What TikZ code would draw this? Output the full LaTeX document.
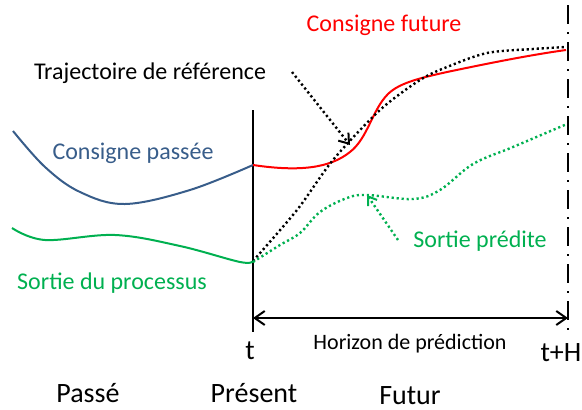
\documentclass[tikz,border=0pt]{standalone}
\usepackage{fontspec}
\setmainfont{Carlito}
\usetikzlibrary{arrows.meta}
\definecolor{cblue}{RGB}{56,93,138}
\definecolor{cgreen}{RGB}{0,176,80}
\definecolor{cred}{RGB}{255,0,0}
\tikzset{
  lbl/.style={font=\fontsize{24}{28}\selectfont, inner sep=0pt},
  biglbl/.style={font=\fontsize{28}{33}\selectfont, inner sep=0pt},
  smalllbl/.style={font=\fontsize{22}{26}\selectfont, inner sep=0pt},
  curve/.style={line width=2pt, smooth, tension=0.6},
  dotline/.style={line width=2.4pt, dash pattern=on 2.2pt off 2.8pt},
  barb/.style={-{Straight Barb[length=9pt,width=13pt,line width=2pt]}},
}
\begin{document}
\begin{tikzpicture}[x=1pt,y=-1pt]
\useasboundingbox (0,0) rectangle (582,410);
% axis lines
\coordinate (ttop) at (253,110);
\coordinate (tbot) at (253,332);
\coordinate (htop) at (568,5);
\coordinate (hbot) at (568,332);
\draw[line width=2.5pt] (ttop) -- (tbot);
\draw[line width=2.5pt, dash pattern=on 19pt off 8pt on 2pt off 8pt] (htop) -- (hbot);
\coordinate (aL) at (253,318);
\coordinate (aR) at (568,318);
\draw[line width=2pt, {Straight Barb[length=10pt,width=14pt,line width=2pt]}-{Straight Barb[length=10pt,width=14pt,line width=2pt]}] (aL) -- (aR);
% curves
\draw[curve, cblue] plot coordinates {(13,131) (45,167) (80,192) (125,204) (190,190) (253,165)};
\draw[curve, cgreen] plot coordinates {(12,228) (45,240) (115,235) (180,246) (240,262) (253,261)};
\draw[cred, line width=2pt] (253,165) .. controls (300,172) and (330,168) .. (350,152)
   .. controls (368,138) and (372,110) .. (388,94)
   .. controls (400,82) and (425,77) .. (447,72)
   .. controls (490,63) and (530,55) .. (566,50);
\draw[dotline, black, smooth, tension=0.5] plot coordinates {(253,261) (297,210) (333,160) (380,110) (420,80) (447,67) (487,53) (533,49) (566,47)};
\draw[dotline, cgreen, smooth, tension=0.6] plot coordinates {(253,262) (280,245) (300,233) (320,212) (347,198) (367,195) (413,199) (440,190) (473,164) (513,147) (567,124)};
% pointer arrows
\coordinate (bs) at (292,72);
\coordinate (be) at (350,145);
\draw[dotline, barb] (bs) -- (be);
\coordinate (gs) at (398,240);
\coordinate (ge) at (367,195);
\draw[dotline, cgreen, -{Straight Barb[length=8pt,width=11pt,line width=2pt]}] (gs) -- (ge);
% labels
\node[lbl] (traj) at (150,73) {Trajectoire de référence};
\node[lbl, text=cred] (cfut) at (384,25) {Consigne future};
\node[lbl, text=cblue] (cpas) at (133,153) {Consigne passée};
\node[lbl, text=cgreen] (sproc) at (112,283) {Sortie du processus};
\node[lbl, text=cgreen] (spred) at (480,241) {Sortie prédite};
\node[biglbl, anchor=base] (tlab) at (250,359) {t};
\node[biglbl, anchor=base] (tHlab) at (561,361) {t+H};
\node[smalllbl] (hor) at (410,344) {Horizon de prédiction};
\node[biglbl, anchor=base] (passe) at (88,402) {Passé};
\node[biglbl, anchor=base] (pres) at (254,402) {Présent};
\node[biglbl, anchor=base] (futur) at (410,404) {Futur};
\end{tikzpicture}
\end{document}
